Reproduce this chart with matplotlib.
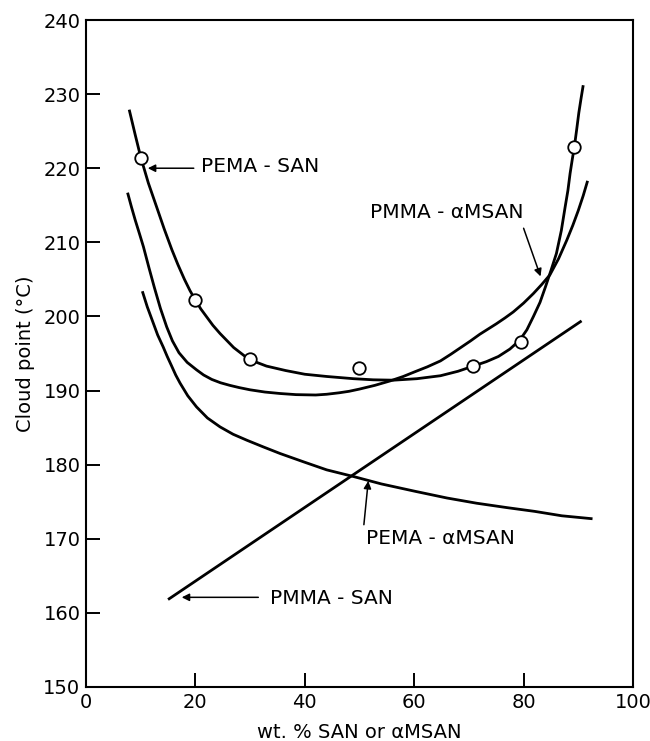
import matplotlib
matplotlib.use("Agg")
import matplotlib.pyplot as plt

plt.rcParams['font.family'] = ['DejaVu Sans']

# curves (wt. %, cloud point in C)
pema_san_x = [7.9, 9.0, 10.0, 11.4, 12.9, 14.3, 15.7, 16.8, 18.0, 19.0, 20.0, 21.0,
              22.0, 23.2, 24.5, 27.0, 29.8, 33.0, 36.5, 40.0, 44.0, 48.9, 52.5, 56.2,
              60.5, 64.8, 68.0, 70.8, 73.2, 75.4, 77.5, 79.3, 80.6, 81.8, 83.0, 84.0,
              85.0, 86.0, 86.9, 87.6, 88.1, 88.5, 88.9, 89.3, 89.7, 90.1, 90.5, 90.9]
pema_san_y = [227.9, 224.5, 221.5, 218.0, 214.8, 211.8, 209.0, 207.0, 205.0, 203.5, 202.2, 201.0,
              200.0, 198.8, 197.7, 195.8, 194.2, 193.3, 192.7, 192.2, 191.9, 191.6, 191.45, 191.4,
              191.6, 192.0, 192.6, 193.3, 193.9, 194.6, 195.6, 196.8, 198.2, 200.0, 201.9, 204.0,
              206.2, 208.5, 211.6, 214.8, 217.0, 219.3, 221.2, 223.0, 225.2, 227.5, 229.4, 231.2]
pema_san_pts_x = [10.0, 20.0, 30.0, 49.9, 70.8, 79.5, 89.2]
pema_san_pts_y = [221.4, 202.2, 194.2, 193.0, 193.3, 196.6, 222.8]

pmma_amsan_x = [7.6, 8.3, 9.0, 9.8, 10.5, 11.5, 12.5, 13.6, 14.75, 15.8, 17.0, 18.5,
                20.2, 21.5, 23.0, 24.6, 26.3, 28.0, 30.0, 32.7, 35.5, 38.4, 42.0, 44.0,
                46.3, 48.1, 50.0, 52.8, 55.6, 58.0, 60.0, 62.4, 64.8, 66.7, 68.5, 70.3,
                72.0, 73.5, 75.0, 76.6, 78.1, 80.0, 81.8, 83.3, 84.8, 86.4, 87.9, 89.0,
                90.0, 90.9, 91.7]
pmma_amsan_y = [216.7, 214.8, 213.0, 211.1, 209.4, 206.6, 203.9, 201.1, 198.6, 196.7, 195.1, 193.8,
                192.8, 192.1, 191.5, 191.05, 190.7, 190.4, 190.1, 189.8, 189.6, 189.45, 189.4, 189.5,
                189.7, 189.9, 190.2, 190.7, 191.3, 191.9, 192.5, 193.2, 194.0, 194.9, 195.8, 196.7,
                197.6, 198.3, 199.0, 199.8, 200.6, 201.8, 203.1, 204.3, 205.6, 207.8, 210.3, 212.3,
                214.3, 216.3, 218.3]

pema_amsan_x = [10.3, 11.2, 12.2, 13.1, 14.1, 14.85, 15.6, 16.4, 17.2, 18.6, 20.2, 22.2,
                24.5, 26.9, 29.4, 32.4, 35.5, 39.7, 44.0, 48.9, 54.0, 60.2, 66.0, 71.4,
                77.0, 82.0, 87.0, 92.6]
pema_amsan_y = [203.4, 201.3, 199.3, 197.5, 195.9, 194.6, 193.4, 192.1, 191.0, 189.3, 187.8, 186.3,
                185.1, 184.1, 183.3, 182.4, 181.5, 180.4, 179.3, 178.4, 177.4, 176.4, 175.5, 174.8,
                174.2, 173.7, 173.1, 172.7]

pmma_san_x = [15.0, 90.6]
pmma_san_y = [161.8, 199.4]

# labels: text, text centre, arrow tail, arrow head
labels = ["PEMA - SAN", "PMMA - \u03b1MSAN", "PEMA - \u03b1MSAN", "PMMA - SAN"]
label_pos = [(31.9, 220.2), (66.0, 214.0), (64.8, 170.0), (44.8, 162.0)]
arrow_tail = [(19.7, 220.0), (80.0, 211.9), (50.8, 171.9), (31.5, 162.1)]
arrow_head = [(11.3, 220.0), (83.1, 205.4), (51.6, 177.8), (17.5, 162.1)]

fig = plt.figure(figsize=(6.5, 7.41), dpi=100)
ax = fig.add_axes([86/650, 1-687/741, (633-86)/650, (687-20)/741])

lw = 2.0
ax.plot(pema_san_x, pema_san_y, 'k-', lw=lw, solid_capstyle='butt')
ax.plot(pmma_amsan_x, pmma_amsan_y, 'k-', lw=lw, solid_capstyle='butt')
ax.plot(pema_amsan_x, pema_amsan_y, 'k-', lw=lw, solid_capstyle='butt')
ax.plot(pmma_san_x, pmma_san_y, 'k-', lw=lw, solid_capstyle='butt')
ax.plot(pema_san_pts_x, pema_san_pts_y, 'o', ms=9, mfc='white', mec='k', mew=1.3, zorder=5)

for t, p, a, b in zip(labels, label_pos, arrow_tail, arrow_head):
    ax.text(p[0], p[1], t, ha='center', va='center', fontsize=14.5)
    ax.annotate("", xy=b, xytext=a,
                arrowprops=dict(arrowstyle='-|>', lw=1.1, color='k',
                                mutation_scale=11, shrinkA=0, shrinkB=0))

ax.set_xlim(0, 100)
ax.set_ylim(150, 240)
ax.set_xticks(range(0, 101, 20))
ax.set_yticks(range(150, 241, 10))
ax.tick_params(direction='in', length=10, width=1.4, labelsize=14, pad=4,
               top=False, right=False)
for s in ax.spines.values():
    s.set_linewidth(1.5)

ax.set_xlabel("wt. % SAN or \u03b1MSAN", fontsize=14, labelpad=8)
ax.set_ylabel("Cloud point (\u00b0C)", fontsize=14, labelpad=6)

fig.savefig("out.png", dpi=100)
